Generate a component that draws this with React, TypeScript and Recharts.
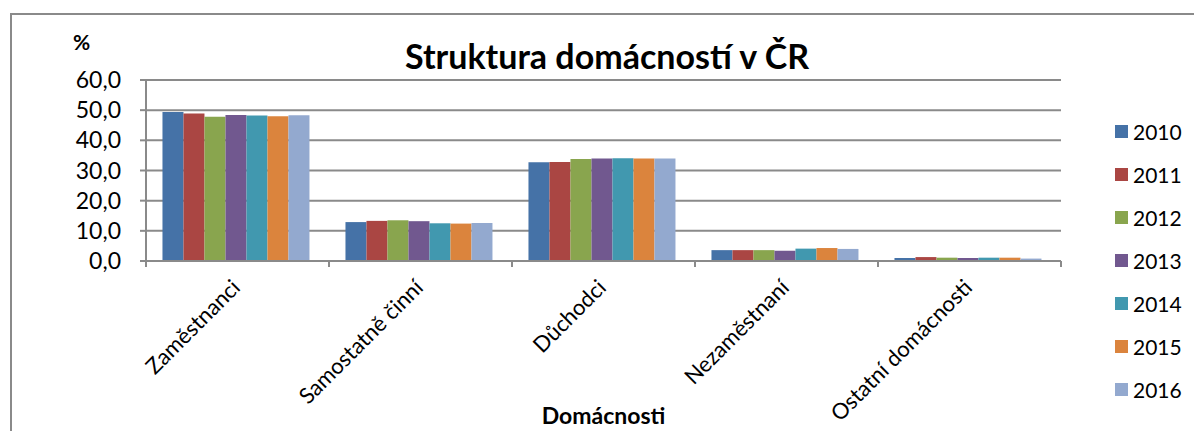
import { Bar, BarChart, CartesianGrid, XAxis, YAxis } from 'recharts';

const categories = ['Zaměstnanci', 'Samostatně činní', 'Důchodci', 'Nezaměstnaní', 'Ostatní domácnosti'];
const years = ['2010', '2011', '2012', '2013', '2014', '2015', '2016'];

// share of households in %, by year
const y2010 = [49.4, 12.9, 32.7, 3.6, 1.0];
const y2011 = [48.9, 13.3, 32.8, 3.6, 1.3];
const y2012 = [47.8, 13.5, 33.8, 3.6, 1.1];
const y2013 = [48.4, 13.2, 34.0, 3.4, 1.0];
const y2014 = [48.2, 12.5, 34.1, 4.1, 1.1];
const y2015 = [48.0, 12.4, 34.0, 4.3, 1.1];
const y2016 = [48.3, 12.6, 34.0, 4.0, 0.8];
const series = [y2010, y2011, y2012, y2013, y2014, y2015, y2016];

const yTicks = [0, 10, 20, 30, 40, 50, 60];

const COLORS = ['#4572a7', '#aa4643', '#89a54e', '#71588f', '#4198af', '#db843d', '#93a9cf'];

const AXIS = '#8a8a8a';
const FONT = 'Lato, "Open Sans", sans-serif';
const W = 1194;
const H = 431;
const PLOT_L = 146;
const PLOT_R = 1061;
const CAT_W = (PLOT_R - PLOT_L) / categories.length;

const data = categories.map((name, i) => {
  const row: Record<string, string | number> = { name };
  years.forEach((yr, j) => { row[yr] = series[j][i]; });
  return row;
});

const fmt = (v: number) => v.toFixed(1).replace('.', ',');

function CatTick(props: any) {
  const { x, y, payload, index } = props;
  const half = CAT_W / 2;
  const ax = x + 4;
  const ay = y + 28;
  return (
    <g>
      <line x1={x - half} x2={x - half} y1={y} y2={y + 6} stroke={AXIS} strokeWidth={2} />
      {index === categories.length - 1 && (
        <line x1={x + half} x2={x + half} y1={y} y2={y + 6} stroke={AXIS} strokeWidth={2} />
      )}
      <text x={ax} y={ay} textAnchor="end" fontSize={22} fontFamily={FONT} fill="#000"
        transform={`rotate(-45 ${ax} ${ay})`}>
        {payload.value}
      </text>
    </g>
  );
}

export default function App() {
  return (
    <div style={{ position: 'absolute', left: 0, top: 0, width: W, height: H, overflow: 'hidden', background: '#fff', fontFamily: FONT }}>
      <div style={{ position: 'absolute', left: 10, top: 13, width: W, height: H, borderLeft: `2px solid ${AXIS}`, borderTop: `2px solid ${AXIS}` }} />
      <BarChart
        width={W}
        height={H}
        data={data}
        margin={{ top: 80, right: W - PLOT_R, bottom: 0, left: 0 }}
        barCategoryGap="9%"
        barGap={0}
        style={{ position: 'absolute', left: 0, top: 0 }}
      >
        <CartesianGrid vertical={false} stroke={AXIS} strokeWidth={2} />
        <YAxis
          width={PLOT_L}
          domain={[0, 60]}
          ticks={yTicks}
          interval={0}
          tickFormatter={fmt}
          axisLine={{ stroke: AXIS, strokeWidth: 2 }}
          tickLine={{ stroke: AXIS, strokeWidth: 2 }}
          tickSize={6}
          tickMargin={19}
          tick={{ fontSize: 23, fill: '#000', fontFamily: FONT }}
        />
        <XAxis
          dataKey="name"
          height={H - 261}
          interval={0}
          tickSize={0}
          tickMargin={0}
          tickLine={false}
          axisLine={{ stroke: AXIS, strokeWidth: 2 }}
          tick={<CatTick />}
          label={{ value: 'Domácnosti', position: 'insideBottom', offset: 7, fontSize: 23, fontWeight: 700, fill: '#000', fontFamily: FONT }}
        />
        {years.map((yr, j) => (
          <Bar key={yr} dataKey={yr} fill={COLORS[j]} isAnimationActive={false} />
        ))}
      </BarChart>
      <div style={{ position: 'absolute', left: 73, top: 29, fontSize: 21, fontWeight: 700, color: '#000' }}>%</div>
      <div style={{ position: 'absolute', left: 0, width: 1214, top: 35, textAlign: 'center', fontSize: 34, fontWeight: 700, color: '#000' }}>
        Struktura domácností v ČR
      </div>
      {years.map((yr, j) => (
        <div key={yr} style={{ position: 'absolute', left: 1115, top: 131 + j * 43 - 13, height: 26, display: 'flex', alignItems: 'center' }}>
          <span style={{ width: 13, height: 13, background: COLORS[j], display: 'inline-block' }} />
          <span style={{ marginLeft: 5, fontSize: 21, color: '#000' }}>{yr}</span>
        </div>
      ))}
    </div>
  );
}
